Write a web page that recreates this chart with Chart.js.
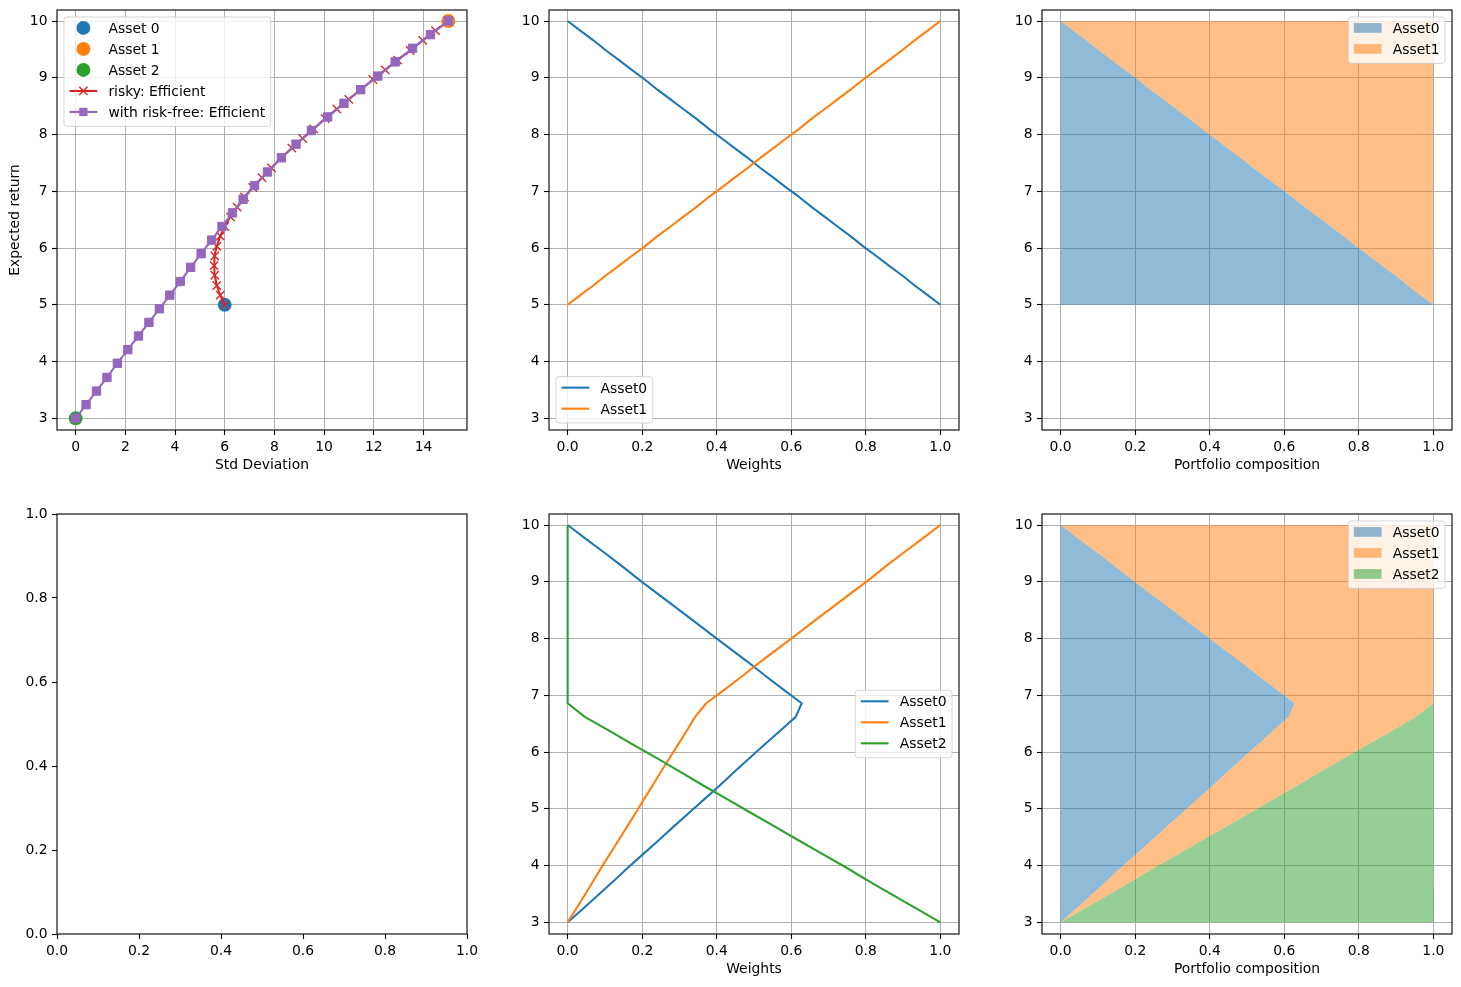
<!DOCTYPE html>
<html>
<head>
<meta charset="utf-8">
<script src="https://cdn.jsdelivr.net/npm/chart.js@4.4.1/dist/chart.umd.min.js"></script>
<style>
html, body { margin: 0; padding: 0; background: #fff; overflow: hidden; }
#fig { position: relative; width: 1461px; height: 987px; overflow: hidden; }
canvas { position: absolute; }
</style>
</head>
<body>
<div id="fig">
  <canvas id="frontier" width="487" height="484" style="left:0px;top:-4px"></canvas>
  <canvas id="weights2" width="487" height="484" style="left:492px;top:-4px"></canvas>
  <canvas id="stack2" width="487" height="484" style="left:985px;top:-4px"></canvas>
  <canvas id="empty" width="487" height="484" style="left:0px;top:500px"></canvas>
  <canvas id="weights3" width="487" height="484" style="left:492px;top:500px"></canvas>
  <canvas id="stack3" width="487" height="484" style="left:985px;top:500px"></canvas>
</div>
<script>
// assets: std deviation / expected return
const assetNames = ['Asset 0', 'Asset 1', 'Asset 2'];
const assetSd = [6, 15, 0];
const assetRet = [5, 10, 3];

// frontier of the two risky assets
const retRisky = [5.00, 5.17, 5.34, 5.52, 5.69, 5.86, 6.03, 6.21, 6.38, 6.55, 6.72, 6.90, 7.07, 7.24, 7.41,
                  7.59, 7.76, 7.93, 8.10, 8.28, 8.45, 8.62, 8.79, 8.97, 9.14, 9.31, 9.48, 9.66, 9.83, 10.00];
const sdRisky = [6.00, 5.82, 5.68, 5.60, 5.57, 5.60, 5.68, 5.82, 6.00, 6.23, 6.50, 6.80, 7.13, 7.50, 7.88,
                 8.28, 8.70, 9.14, 9.58, 10.04, 10.51, 10.99, 11.47, 11.96, 12.46, 12.96, 13.46, 13.97, 14.48, 15.00];
const w0Risky = [1.000, 0.966, 0.931, 0.897, 0.862, 0.828, 0.793, 0.759, 0.724, 0.690, 0.655, 0.621, 0.586, 0.552, 0.517,
                 0.483, 0.448, 0.414, 0.379, 0.345, 0.310, 0.276, 0.241, 0.207, 0.172, 0.138, 0.103, 0.069, 0.034, 0.000];
const w1Risky = [0.000, 0.034, 0.069, 0.103, 0.138, 0.172, 0.207, 0.241, 0.276, 0.310, 0.345, 0.379, 0.414, 0.448, 0.483,
                 0.517, 0.552, 0.586, 0.621, 0.655, 0.690, 0.724, 0.759, 0.793, 0.828, 0.862, 0.897, 0.931, 0.966, 1.000];

// frontier with the risk-free asset
const retAll = [3.00, 3.24, 3.48, 3.72, 3.97, 4.21, 4.45, 4.69, 4.93, 5.17, 5.41, 5.66, 5.90, 6.14, 6.38,
                6.62, 6.86, 7.10, 7.34, 7.59, 7.83, 8.07, 8.31, 8.55, 8.79, 9.03, 9.28, 9.52, 9.76, 10.00];
const sdAll = [0.00, 0.42, 0.84, 1.26, 1.68, 2.10, 2.53, 2.95, 3.37, 3.79, 4.21, 4.63, 5.05, 5.47, 5.89,
               6.31, 6.74, 7.20, 7.72, 8.28, 8.87, 9.49, 10.14, 10.80, 11.47, 12.16, 12.86, 13.56, 14.28, 15.00];
const w0All = [0.000, 0.041, 0.082, 0.122, 0.163, 0.204, 0.245, 0.285, 0.326, 0.367, 0.408, 0.449, 0.489, 0.530, 0.571,
               0.612, 0.628, 0.579, 0.531, 0.483, 0.434, 0.386, 0.338, 0.290, 0.241, 0.193, 0.145, 0.097, 0.048, 0.000];
const w1All = [0.000, 0.023, 0.046, 0.068, 0.091, 0.114, 0.137, 0.160, 0.183, 0.205, 0.228, 0.251, 0.274, 0.297, 0.320,
               0.342, 0.372, 0.421, 0.469, 0.517, 0.566, 0.614, 0.662, 0.710, 0.759, 0.807, 0.855, 0.903, 0.952, 1.000];
const w2All = [1.000, 0.936, 0.873, 0.809, 0.746, 0.682, 0.618, 0.555, 0.491, 0.428, 0.364, 0.300, 0.237, 0.173, 0.110,
               0.046, 0.000, 0.000, 0.000, 0.000, 0.000, 0.000, 0.000, 0.000, 0.000, 0.000, 0.000, 0.000, 0.000, 0.000];

// ticks
const sdTicks = [0, 2, 4, 6, 8, 10, 12, 14];
const sdTickLabels = ['0', '2', '4', '6', '8', '10', '12', '14'];
const retTicks = [3, 4, 5, 6, 7, 8, 9, 10];
const retTickLabels = ['3', '4', '5', '6', '7', '8', '9', '10'];
const unitTicks = [0, 0.2, 0.4, 0.6, 0.8, 1.0];
const unitTickLabels = ['0.0', '0.2', '0.4', '0.6', '0.8', '1.0'];

const C = { blue: '#1f77b4', orange: '#ff7f0e', green: '#2ca02c', red: '#d62728', purple: '#9467bd' };
const FILL = { blue: 'rgba(31,119,180,0.5)', orange: 'rgba(255,127,14,0.5)', green: 'rgba(44,160,44,0.5)' };
const FS = 13.9;

Chart.defaults.font.family = 'DejaVu Sans';
Chart.defaults.font.size = FS;
Chart.defaults.color = '#000';
Chart.defaults.animation = false;
Chart.defaults.events = [];
Chart.defaults.devicePixelRatio = 1;
Chart.defaults.plugins.legend.display = false;
Chart.defaults.plugins.tooltip.enabled = false;

const zip = (xs, ys) => xs.map((x, i) => ({ x: x, y: ys[i] }));

// matplotlib-ish frame + legend inside the axes
function drawLegend(chart, opts) {
  const { ctx, chartArea: a } = chart;
  const items = chart.data.datasets.filter(d => d.label);
  ctx.save();
  ctx.font = FS + 'px "DejaVu Sans"';
  const tw = Math.max(...items.map(d => ctx.measureText(d.label).width));
  const w = 5.56 + 27.8 + 11.1 + tw + 5.56;
  const h = items.length * 21 + 4.4;
  const pad = 6.94;
  let x = a.left + pad, y = a.top + pad;
  if (opts.loc.includes('right')) x = a.right - pad - w;
  if (opts.loc.startsWith('lower')) y = a.bottom - pad - h;
  if (opts.loc.startsWith('center')) y = (a.top + a.bottom) / 2 - h / 2;
  ctx.beginPath();
  ctx.roundRect(x, y, w, h, 2.8);
  ctx.fillStyle = 'rgba(255,255,255,0.8)';
  ctx.fill();
  ctx.strokeStyle = 'rgba(204,204,204,0.8)';
  ctx.lineWidth = 1;
  ctx.stroke();
  items.forEach((d, i) => {
    const cy = y + 11 + 21 * i;
    const hx0 = x + 5.56, hx1 = hx0 + 27.8, hx = (hx0 + hx1) / 2;
    if (d.fill === 'shape') {
      ctx.fillStyle = d.backgroundColor;
      ctx.fillRect(hx0, cy - 4.86, 27.8, 9.72);
    } else if (!d.showLine) {
      ctx.fillStyle = d.pointBackgroundColor;
      ctx.beginPath();
      ctx.arc(hx, cy, d.pointRadius, 0, Math.PI * 2);
      ctx.fill();
    } else {
      ctx.strokeStyle = d.borderColor;
      ctx.lineWidth = d.borderWidth;
      ctx.beginPath();
      ctx.moveTo(hx0, cy);
      ctx.lineTo(hx1, cy);
      ctx.stroke();
      if (d.pointStyle === 'rect') {
        const s = d.pointRadius * Math.SQRT1_2;
        ctx.fillStyle = d.pointBackgroundColor;
        ctx.fillRect(hx - s, cy - s, 2 * s, 2 * s);
      } else if (d.pointStyle === 'crossRot') {
        const s = d.pointRadius * Math.SQRT1_2;
        ctx.lineWidth = d.pointBorderWidth;
        ctx.beginPath();
        ctx.moveTo(hx - s, cy - s); ctx.lineTo(hx + s, cy + s);
        ctx.moveTo(hx - s, cy + s); ctx.lineTo(hx + s, cy - s);
        ctx.stroke();
      }
    }
    ctx.fillStyle = '#000';
    ctx.textAlign = 'left';
    ctx.textBaseline = 'alphabetic';
    ctx.fillText(d.label, x + 44.46, cy + 5);
  });
  ctx.restore();
}

const axesFrame = {
  id: 'axesFrame',
  afterDraw(chart, args, opts) {
    const { ctx, chartArea: a } = chart;
    ctx.save();
    ctx.strokeStyle = '#000';
    ctx.lineWidth = 1.1;
    ctx.strokeRect(a.left, a.top, a.right - a.left, a.bottom - a.top);
    ctx.restore();
    if (opts.loc) drawLegend(chart, opts);
  }
};

function axis(min, max, ticks, labels, title, extra) {
  extra = extra || {};
  return {
    type: 'linear',
    min: min,
    max: max,
    z: extra.z || 0,
    grid: {
      drawOnChartArea: extra.grid !== false,
      color: '#b0b0b0', lineWidth: 1,
      tickColor: '#000', tickLength: 5, tickWidth: 1.1
    },
    border: { display: false },
    afterBuildTicks: s => { s.ticks = ticks.map(v => ({ value: v })); },
    ticks: { autoSkip: false, maxRotation: 0, padding: 4.5, callback: (v, i) => labels[i] },
    title: title ? {
      display: true, text: title, font: { size: FS, lineHeight: 1.2 },
      padding: extra.vertical ? { top: 7.4, bottom: 0 } : { top: 0, bottom: 6.7 }
    } : { display: false },
    afterFit: s => { if (s.isHorizontal()) s.height = 50; else s.width = 57; }
  };
}

function makeChart(id, datasets, scales, legendLoc) {
  datasets.forEach((d, i) => { d.order = -i; });
  return new Chart(document.getElementById(id), {
    type: 'scatter',
    data: { datasets: datasets },
    options: {
      responsive: false,
      layout: { autoPadding: false, padding: { left: 0, right: 20, top: 14, bottom: 0 } },
      scales: scales,
      plugins: { axesFrame: { loc: legendLoc } }
    },
    plugins: [axesFrame]
  });
}

const retAxis = (z) => axis(2.794, 10.194, retTicks, retTickLabels, null, { z: z });

function weightLines(ret, weights, names, colors) {
  return weights.map((w, k) => ({
    label: names[k], data: zip(w, ret), showLine: true,
    borderColor: colors[k], borderWidth: 2.08, pointRadius: 0, borderJoinStyle: 'round'
  }));
}

function stackBands(ret, weights, names, fills) {
  let base = ret.map(() => 0);
  return weights.map((w, k) => {
    const top = base.map((b, i) => b + w[i]);
    const lower = ret.map((r, i) => ({ x: base[i], y: r }));
    const upper = ret.map((r, i) => ({ x: top[i], y: r })).reverse();
    base = top;
    return {
      label: names[k], data: lower.concat(upper), showLine: true, fill: 'shape',
      backgroundColor: fills[k], borderColor: 'rgba(0,0,0,0)', borderWidth: 0, pointRadius: 0
    };
  });
}

// 1: efficient frontier
const assetDots = assetNames.map((n, k) => {
  const col = [C.blue, C.orange, C.green][k];
  return {
    label: n, data: [{ x: assetSd[k], y: assetRet[k] }], showLine: false,
    pointRadius: 6.94, pointBackgroundColor: col, pointBorderColor: col, pointBorderWidth: 0
  };
});
makeChart('frontier', assetDots.concat([
  {
    label: 'risky: Efficient', data: zip(sdRisky, retRisky), showLine: true,
    borderColor: C.red, borderWidth: 2.08, pointStyle: 'crossRot', pointRadius: 5.9,
    pointBorderColor: C.red, pointBackgroundColor: C.red, pointBorderWidth: 1.4
  },
  {
    label: 'with risk-free: Efficient', data: zip(sdAll, retAll), showLine: true,
    borderColor: C.purple, borderWidth: 2.08, pointStyle: 'rect', pointRadius: 5.9,
    pointBorderColor: C.purple, pointBackgroundColor: C.purple, pointBorderWidth: 1
  }
]), {
  x: axis(-0.75, 15.75, sdTicks, sdTickLabels, 'Std Deviation'),
  y: axis(2.794, 10.194, retTicks, retTickLabels, 'Expected return', { vertical: true })
}, 'upper left');

// 2: weights, two risky assets
makeChart('weights2', weightLines(retRisky, [w0Risky, w1Risky], ['Asset0', 'Asset1'], [C.blue, C.orange]), {
  x: axis(-0.05, 1.05, unitTicks, unitTickLabels, 'Weights'),
  y: retAxis(0)
}, 'lower left');

// 3: composition, two risky assets
makeChart('stack2', stackBands(retRisky, [w0Risky, w1Risky], ['Asset0', 'Asset1'], [FILL.blue, FILL.orange]), {
  x: axis(-0.05, 1.05, unitTicks, unitTickLabels, 'Portfolio composition', { z: 1 }),
  y: retAxis(1)
}, 'upper right');

// 4: empty axes
makeChart('empty', [], {
  x: axis(0, 1, unitTicks, unitTickLabels, null, { grid: false }),
  y: axis(0, 1, unitTicks, unitTickLabels, null, { grid: false })
}, null);

// 5: weights with risk-free asset
makeChart('weights3', weightLines(retAll, [w0All, w1All, w2All], ['Asset0', 'Asset1', 'Asset2'], [C.blue, C.orange, C.green]), {
  x: axis(-0.05, 1.05, unitTicks, unitTickLabels, 'Weights'),
  y: retAxis(0)
}, 'center right');

// 6: composition with risk-free asset
makeChart('stack3', stackBands(retAll, [w0All, w1All, w2All], ['Asset0', 'Asset1', 'Asset2'], [FILL.blue, FILL.orange, FILL.green]), {
  x: axis(-0.05, 1.05, unitTicks, unitTickLabels, 'Portfolio composition', { z: 1 }),
  y: retAxis(1)
}, 'upper right');
</script>
</body>
</html>
